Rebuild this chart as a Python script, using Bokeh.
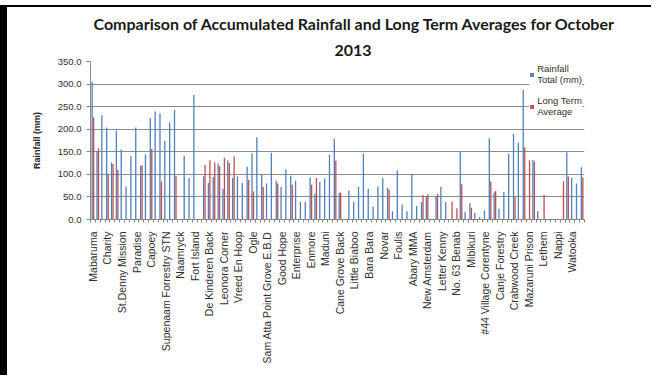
import numpy as np
from math import pi
from bokeh.plotting import figure
from bokeh.models import (ColumnDataSource, Range1d, FixedTicker, NumeralTickFormatter,
                          Title, Legend, LegendItem)
from bokeh.embed import file_html
from bokeh.resources import INLINE

# ---------------- data ----------------
labeled_stations = [
    "Mabaruma", "Charity", "St.Denny Mission", "Paradise", "Capoey",
    "Supenaam Forrestry STN", "Naamryck", "Fort Island", "De Kinderen Back",
    "Leonora Corner", "Vreed En Hoop", "Ogle", "Sam Atta Point Grove E.B.D",
    "Good Hope", "Enterprise", "Enmore", "Maduni", "Cane Grove Back",
    "Little Biaboo", "Bara Bara", "Novar", "Foulis", "Abary MMA",
    "New Amsterdam", "Letter Kenny", "No. 63 Benab", "Mibikuri",
    "#44 Village Corentyne", "Canje Forestry", "Crabwood Creek",
    "Mazaruni Prison", "Lethem", "Nappi", "Watooka",
]
label_step = 3  # only every third station is labelled on the axis

rainfall_total = [
    305, 150, 231, 204, 126, 197, 155, 73, 140, 204,
    119, 144, 225, 239, 235, 174, 215, 243, None, 141,
    92, 276, None, 96, 81, 94, 124, 68, 131, 92,
    96, 81, 117, 147, 182, 101, 80, 148, 86, 72,
    111, 97, 86, 39, 39, 93, 57, 83, 91, 143,
    179, 59, None, 64, 39, 72, 146, 68, 29, 73,
    92, 70, 18, 109, 33, 18, 100, 30, 38, 52,
    None, 52, 72, 39, None, None, 150, 17, 36, 15,
    5, 20, 180, 60, 24, 61, 145, 190, 170, 287,
    None, 132, 18, None, None, None, None, None, 149, 92,
    80, 116,
]
long_term_average = [
    226, 158, None, 100, 123, 110, None, None, None, None,
    120, None, 156, None, 84, None, None, 97, None, None,
    None, None, None, 121, 131, 127, 118, 137, 125, 140,
    None, None, 88, 62, None, 72, None, None, 80, None,
    None, 77, None, None, None, 77, 92, None, None, None,
    130, 60, None, None, None, None, None, None, None, None,
    None, 66, None, None, None, None, None, None, 54, 56,
    None, 57, None, None, 40, 25, 78, None, 26, None,
    None, None, 84, 63, None, None, None, 52, None, 160,
    131, 128, None, 54, None, None, None, 85, 95, None,
    None, 93,
]
y_ticks = [0, 50, 100, 150, 200, 250, 300, 350]
series_names = ["Rainfall\nTotal (mm)", "Long Term\nAverage"]

# ---------------- build ----------------
n = len(rainfall_total)
idx = np.arange(n)

def series(vals, offset):
    v = np.array([np.nan if a is None else a for a in vals], dtype=float)
    keep = ~np.isnan(v)
    return ColumnDataSource(dict(x=idx[keep] + offset, top=v[keep]))

blue = "#4F81BD"
red = "#C0504D"
grid_col = "#8C8C8C"
axis_col = "#868686"
txt_col = "#303030"

p = figure(width=651, height=370, output_backend="svg", toolbar_location=None,
           x_range=Range1d(-0.5, n - 0.5), y_range=Range1d(0, 350),
           min_border_left=83, min_border_right=74, min_border_top=54,
           min_border_bottom=158, background_fill_color="white",
           border_fill_color="white", outline_line_color=None,
           styles={"margin-top": "5px", "border-top": "2px solid black",
                   "border-left": "7px solid black"})

r_blue = p.vbar(x="x", top="top", width=0.27, bottom=0,
                source=series(rainfall_total, -0.155), fill_color=blue, line_color=None)
r_red = p.vbar(x="x", top="top", width=0.27, bottom=0,
               source=series(long_term_average, 0.155), fill_color=red, line_color=None)

# y axis
p.yaxis.ticker = FixedTicker(ticks=y_ticks)
p.yaxis.formatter = NumeralTickFormatter(format="0.0")
p.yaxis.major_label_text_font = "Liberation Sans"
p.yaxis.major_label_text_font_size = "9.5px"
p.yaxis.major_label_text_color = txt_col
p.yaxis.axis_line_color = axis_col
p.yaxis.major_tick_line_color = axis_col
p.yaxis.major_tick_out = 4
p.yaxis.major_tick_in = 0
p.yaxis.minor_tick_line_color = None
p.yaxis.major_label_standoff = 5
p.yaxis.axis_label = "Rainfall (mm)"
p.yaxis.axis_label_text_font = "Liberation Sans"
p.yaxis.axis_label_text_font_style = "bold"
p.yaxis.axis_label_text_font_size = "9px"
p.yaxis.axis_label_text_color = "#262626"
p.yaxis.axis_label_standoff = 13
p.ygrid.grid_line_color = grid_col
p.ygrid.grid_line_width = 1

# x axis
tick_pos = list(range(0, n, label_step))[:len(labeled_stations)]
boundaries = [i - 0.5 for i in range(n + 1)]
p.xaxis.ticker = FixedTicker(ticks=tick_pos, minor_ticks=boundaries)
p.xaxis.major_label_overrides = {t: s for t, s in zip(tick_pos, labeled_stations)}
p.xaxis.major_label_orientation = pi / 2
p.xaxis.major_label_text_font = "Liberation Sans"
p.xaxis.major_label_text_font_size = "10.5px"
p.xaxis.major_label_text_color = txt_col
p.xaxis.major_tick_out = 0
p.xaxis.major_tick_in = 0
p.xaxis.minor_tick_out = 3
p.xaxis.minor_tick_in = 0
p.xaxis.minor_tick_line_color = axis_col
p.xaxis.axis_line_color = axis_col
p.xaxis.major_label_standoff = 9
p.xgrid.grid_line_color = None

# two-line title
title_kw = dict(align="left", text_font="Lato", text_font_style="bold",
                text_font_size="16px", text_color="#1A1A1A")
p.add_layout(Title(text="2013", standoff=11, offset=244, **title_kw), "above")
p.add_layout(Title(text="Comparison of Accumulated Rainfall and Long Term Averages for October",
                   standoff=9, offset=3, **title_kw), "above")

# legend (kept inside the plot frame, top right, where no bars reach)
legend = Legend(items=[LegendItem(label=series_names[0], renderers=[r_blue]),
                       LegendItem(label=series_names[1], renderers=[r_red])],
                location="top_right", orientation="vertical",
                glyph_width=5, glyph_height=5, label_standoff=3, spacing=10,
                padding=2, margin=2, border_line_color=None,
                background_fill_color="white", background_fill_alpha=1,
                label_text_font="Liberation Sans", label_text_font_size="9.5px",
                label_text_color=txt_col)
p.add_layout(legend)

open("out.html", "w").write(file_html(p, INLINE))
